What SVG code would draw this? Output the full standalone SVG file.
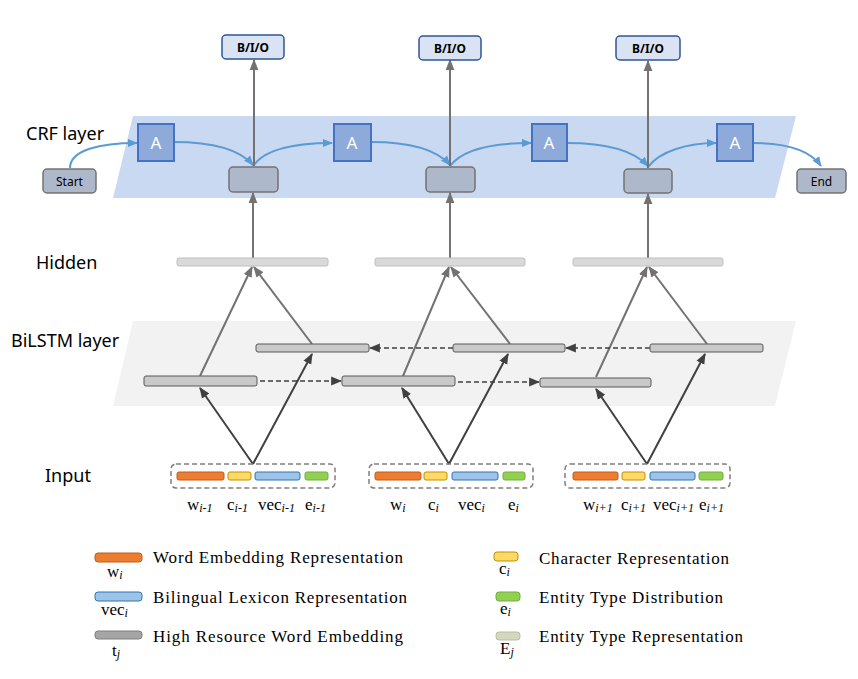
<svg xmlns="http://www.w3.org/2000/svg" width="858" height="679" viewBox="0 0 858 679">
<defs>
<marker id="mb" viewBox="0 0 10 10" refX="9" refY="5" markerWidth="10" markerHeight="10" markerUnits="userSpaceOnUse" orient="auto"><path d="M0,1 L10,5 L0,9 z" fill="#5b9bd5"/></marker>
<marker id="mg" viewBox="0 0 10 10" refX="9" refY="5" markerWidth="11" markerHeight="11" markerUnits="userSpaceOnUse" orient="auto"><path d="M0,1 L10,5 L0,9 z" fill="#767171"/></marker>
<marker id="md" viewBox="0 0 10 10" refX="9" refY="5" markerWidth="11" markerHeight="11" markerUnits="userSpaceOnUse" orient="auto"><path d="M0,1 L10,5 L0,9 z" fill="#404040"/></marker>
</defs>
<style>
.lbl{font-family:"Noto Sans","Open Sans",sans-serif;font-size:18px;fill:#000}
.bio rect{fill:#dae3f3;stroke:#2f5597;stroke-width:1.5}
.bio text{font-family:"Noto Sans","DejaVu Sans",sans-serif;font-size:12px;font-weight:bold;fill:#000;text-anchor:middle}
.A rect{fill:#8eaadb;stroke:#4472c4;stroke-width:2}
.A text{font-family:"Noto Sans",sans-serif;font-size:17px;fill:#fff;text-anchor:middle}
.crf{fill:#adb9ca;stroke:#767171;stroke-width:1.5}
.se text{font-family:"Noto Sans",sans-serif;font-size:12px;fill:#000;text-anchor:middle}
.hid{fill:#d9d9d9;stroke:#bfbfbf;stroke-width:1}
.bl{fill:#c9c9c9;stroke:#595959;stroke-width:1}
.blue{fill:none;stroke:#5b9bd5;stroke-width:2;marker-end:url(#mb)}
.gv{fill:none;stroke:#767171;stroke-width:2;marker-end:url(#mg)}
.dk{fill:none;stroke:#404040;stroke-width:2;marker-end:url(#md)}
.dash{fill:none;stroke:#404040;stroke-width:1.5;stroke-dasharray:5,3;marker-end:url(#md)}
.grp{fill:none;stroke:#7f7f7f;stroke-width:1.5;stroke-dasharray:5,3}
.o{fill:#ed7d31;stroke:#c55a11;stroke-width:1}
.y{fill:#ffd966;stroke:#bf9000;stroke-width:1}
.b{fill:#9dc3e6;stroke:#2e75b6;stroke-width:1}
.g{fill:#92d050;stroke:#70ad47;stroke-width:1}
.t{fill:#a5a5a5;stroke:#7f7f7f;stroke-width:1}
.E{fill:#d3d8bd;stroke:#b7bda2;stroke-width:1}
.tm{font-family:"Liberation Serif","Times New Roman",serif;font-size:17px;fill:#000}
.tm tspan.s{font-style:italic;font-size:12px}
.lg{font-family:"Liberation Serif","Times New Roman",serif;font-size:17px;fill:#000}
</style>

<!-- bands -->
<polygon id="crf-band" points="133,116 796,116 775,198 113,198" fill="#c9d9f2"/>
<polygon id="bilstm-band" points="133,321 796,321 775,406 113,406" fill="#f2f2f2"/>

<!-- layer labels -->
<text class="lbl" x="26" y="140">CRF layer</text>
<text class="lbl" x="36" y="269">Hidden</text>
<text class="lbl" x="11" y="347">BiLSTM layer</text>
<text class="lbl" x="45" y="482">Input</text>

<!-- connectors -->
<g id="connectors">
<path class="blue" d="M70,168 C70,150 100,143 137,143"/>
<path class="blue" d="M174,142 C212,142 240,150 253,165"/>
<path class="blue" d="M253,166 C264,150 290,143 332,143"/>
<path class="blue" d="M371,142 C410,142 437,150 450,165"/>
<path class="blue" d="M450,166 C462,150 490,143 531,143"/>
<path class="blue" d="M567,143 C606,143 634,151 648,166"/>
<path class="blue" d="M648,167 C660,151 688,143 716,143"/>
<path class="blue" d="M753,143 C786,143 810,150 821,166"/>
<path class="gv" d="M254,166 L254,60"/>
<path class="gv" d="M450,166 L450,60"/>
<path class="gv" d="M648,168 L648,61"/>
<path class="gv" d="M253,258 L253,193"/>
<path class="gv" d="M450,258 L450,193"/>
<path class="gv" d="M648,258 L648,194"/>
<path class="gv" d="M200,376 L252,267"/>
<path class="gv" d="M312,344 L254,267"/>
<path class="gv" d="M403,376 L449,267"/>
<path class="gv" d="M510,344 L451,267"/>
<path class="gv" d="M596,377 L647,267"/>
<path class="gv" d="M707,344 L649,267"/>
<path class="dash" d="M260,381 L341,381"/>
<path class="dash" d="M458,382 L539,382"/>
<path class="dash" d="M650,348 L566,348"/>
<path class="dash" d="M453,348 L370,348"/>
<path class="dk" d="M253,464 L200,388"/>
<path class="dk" d="M253,464 L312,354"/>
<path class="dk" d="M449,464 L402,388"/>
<path class="dk" d="M449,464 L508,354"/>
<path class="dk" d="M647,464 L596,389"/>
<path class="dk" d="M647,464 L705,354"/>
</g>

<g id="bio1" class="bio"><rect x="222" y="35" width="62" height="24" rx="4"/><text x="253" y="52">B/I/O</text></g>
<g id="bio2" class="bio"><rect x="419" y="36" width="62" height="24" rx="4"/><text x="450" y="53">B/I/O</text></g>
<g id="bio3" class="bio"><rect x="616" y="36" width="64" height="24" rx="4"/><text x="648" y="53">B/I/O</text></g>

<g id="A1" class="A"><rect x="138" y="124" width="36" height="37"/><text x="156" y="149">A</text></g>
<g id="A2" class="A"><rect x="334" y="124" width="37" height="37"/><text x="352" y="149">A</text></g>
<g id="A3" class="A"><rect x="532" y="124" width="35" height="37"/><text x="549" y="149">A</text></g>
<g id="A4" class="A"><rect x="717" y="124" width="36" height="37"/><text x="735" y="149">A</text></g>

<g id="start" class="se"><rect class="crf" x="43" y="169" width="53" height="24" rx="4"/><text x="69.5" y="185.5">Start</text></g>
<g id="end" class="se"><rect class="crf" x="797" y="169" width="49" height="24" rx="4"/><text x="821.5" y="185.5">End</text></g>

<g id="crf1"><rect class="crf" x="229" y="167" width="49" height="25" rx="4"/></g>
<g id="crf2"><rect class="crf" x="426" y="167" width="49" height="25" rx="4"/></g>
<g id="crf3"><rect class="crf" x="624" y="169" width="48" height="24" rx="4"/></g>

<g id="hid1"><rect class="hid" x="177" y="258" width="151" height="8" rx="2"/></g>
<g id="hid2"><rect class="hid" x="375" y="258" width="150" height="8" rx="2"/></g>
<g id="hid3"><rect class="hid" x="573" y="258" width="150" height="8" rx="2"/></g>

<g id="fw1"><rect class="bl" x="144" y="376" width="113" height="10" rx="2"/></g>
<g id="fw2"><rect class="bl" x="342" y="376" width="113" height="10" rx="2"/></g>
<g id="fw3"><rect class="bl" x="540" y="378" width="111" height="9" rx="2"/></g>
<g id="bw1"><rect class="bl" x="256" y="344" width="113" height="8" rx="2"/></g>
<g id="bw2"><rect class="bl" x="453" y="344" width="112" height="8" rx="2"/></g>
<g id="bw3"><rect class="bl" x="650" y="344" width="113" height="8" rx="2"/></g>

<g id="in1">
<rect class="grp" x="171" y="464" width="164" height="24" rx="5"/>
<rect class="o" x="177" y="472" width="47" height="8" rx="2"/>
<rect class="y" x="228" y="472" width="23" height="8" rx="2"/>
<rect class="b" x="255" y="472" width="45" height="8" rx="2"/>
<rect class="g" x="305" y="472" width="23" height="8" rx="2"/>
<text class="tm" x="187" y="510">w<tspan class="s" dy="2">i-1</tspan></text>
<text class="tm" x="227" y="510">c<tspan class="s" dy="2">i-1</tspan></text>
<text class="tm" x="258" y="510">vec<tspan class="s" dy="2">i-1</tspan></text>
<text class="tm" x="305" y="510">e<tspan class="s" dy="2">i-1</tspan></text>
</g>
<g id="in2">
<rect class="grp" x="369" y="464" width="164" height="24" rx="5"/>
<rect class="o" x="375" y="472" width="46" height="8" rx="2"/>
<rect class="y" x="424" y="472" width="23" height="8" rx="2"/>
<rect class="b" x="452" y="472" width="46" height="8" rx="2"/>
<rect class="g" x="503" y="472" width="22" height="8" rx="2"/>
<text class="tm" x="390" y="510">w<tspan class="s" dy="2">i</tspan></text>
<text class="tm" x="428" y="510">c<tspan class="s" dy="2">i</tspan></text>
<text class="tm" x="458" y="510">vec<tspan class="s" dy="2">i</tspan></text>
<text class="tm" x="508" y="510">e<tspan class="s" dy="2">i</tspan></text>
</g>
<g id="in3">
<rect class="grp" x="565" y="464" width="165" height="24" rx="5"/>
<rect class="o" x="573" y="472" width="45" height="8" rx="2"/>
<rect class="y" x="622" y="472" width="23" height="8" rx="2"/>
<rect class="b" x="650" y="472" width="45" height="8" rx="2"/>
<rect class="g" x="699" y="472" width="24" height="8" rx="2"/>
<text class="tm" x="583" y="510">w<tspan class="s" dy="2">i+1</tspan></text>
<text class="tm" x="621" y="510">c<tspan class="s" dy="2">i+1</tspan></text>
<text class="tm" x="653" y="510">vec<tspan class="s" dy="2">i+1</tspan></text>
<text class="tm" x="699" y="510">e<tspan class="s" dy="2">i+1</tspan></text>
</g>

<g id="legend">
<rect class="o" x="95" y="553" width="47" height="9" rx="3"/>
<text class="tm" x="107" y="577">w<tspan class="s" dy="2">i</tspan></text>
<text class="lg" x="153" y="563" textLength="250" lengthAdjust="spacing">Word Embedding Representation</text>
<rect class="b" x="95" y="592" width="47" height="9" rx="3"/>
<text class="tm" x="101" y="615">vec<tspan class="s" dy="2">i</tspan></text>
<text class="lg" x="153" y="603" textLength="254" lengthAdjust="spacing">Bilingual Lexicon Representation</text>
<rect class="t" x="95" y="631" width="47" height="8" rx="3"/>
<text class="tm" x="112" y="656">t<tspan class="s" dy="2">j</tspan></text>
<text class="lg" x="153" y="642" textLength="250" lengthAdjust="spacing">High Resource Word Embedding</text>

<rect class="y" x="494" y="552" width="24" height="9" rx="3"/>
<text class="tm" x="499" y="574">c<tspan class="s" dy="2">i</tspan></text>
<text class="lg" x="539" y="564" textLength="190" lengthAdjust="spacing">Character Representation</text>
<rect class="g" x="496" y="592" width="24" height="9" rx="3"/>
<text class="tm" x="500" y="614">e<tspan class="s" dy="2">i</tspan></text>
<text class="lg" x="539" y="603" textLength="184" lengthAdjust="spacing">Entity Type Distribution</text>
<rect class="E" x="496" y="632" width="24" height="8" rx="3"/>
<text class="tm" x="500" y="654">E<tspan class="s" dy="2">j</tspan></text>
<text class="lg" x="539" y="642" textLength="204" lengthAdjust="spacing">Entity Type Representation</text>
</g>
</svg>
